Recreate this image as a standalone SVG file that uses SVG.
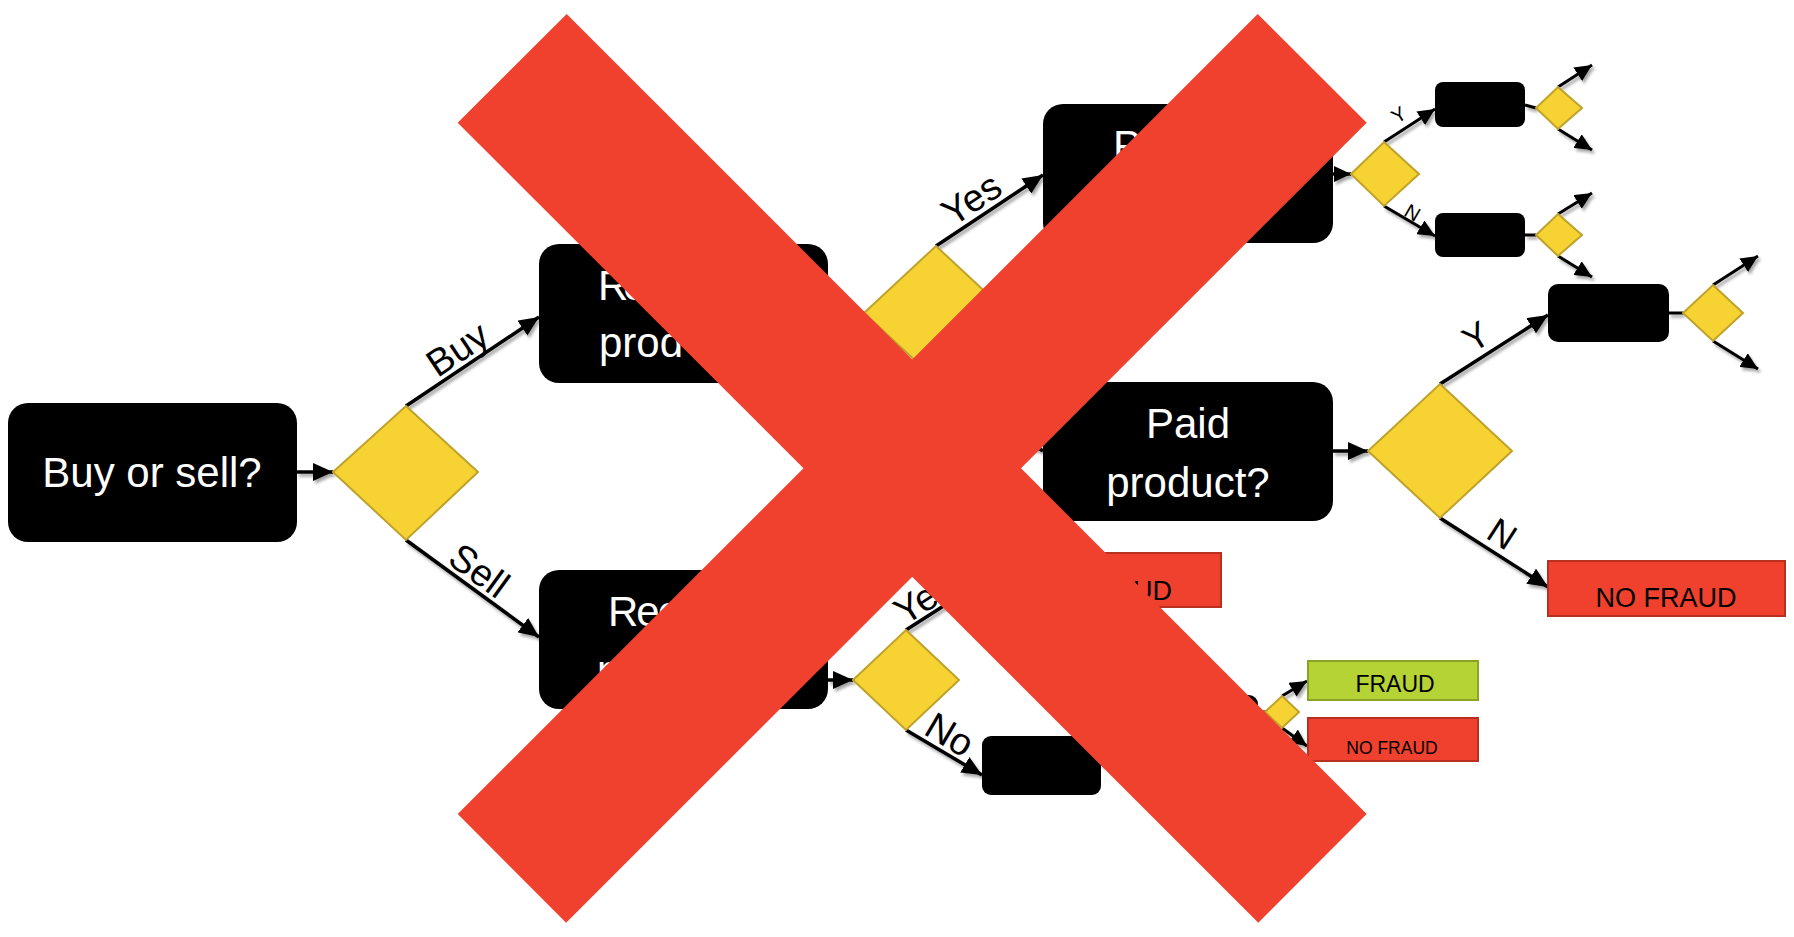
<svg xmlns="http://www.w3.org/2000/svg" width="1794" height="937" viewBox="0 0 1794 937">
<style>
.box{fill:#000}
.dia{fill:#F6D232;stroke:#BFA22A;stroke-width:2}
.red{fill:#F0402E;stroke:#B8301F;stroke-width:2}
.grn{fill:#B5D334;stroke:#8AA226;stroke-width:2}
.wt{font-family:"Liberation Sans",Arial,sans-serif;font-size:42px;fill:#fff}
.lb{font-family:"Liberation Sans",Arial,sans-serif;font-size:38px;fill:#000}
.lb.m{font-size:36px}
.lb.t{font-size:20px}
.bt{font-family:"Liberation Sans",Arial,sans-serif;fill:#000}
.cn line{stroke:#000;stroke-width:3.5;fill:none}
.cn line.s{stroke-width:3}
</style>
<defs>
<marker id="ah" markerUnits="userSpaceOnUse" markerWidth="22" markerHeight="18" refX="20" refY="9" orient="auto"><path d="M0,0 L20,9 L0,18 z" fill="#000"/></marker>
<marker id="as" markerUnits="userSpaceOnUse" markerWidth="18" markerHeight="16" refX="17" refY="8" orient="auto"><path d="M0,0 L17,8 L0,16 z" fill="#000"/></marker>
<filter id="sh" x="-10%" y="-10%" width="120%" height="120%"><feDropShadow dx="2" dy="3" stdDeviation="1.5" flood-color="#000" flood-opacity="0.35"/></filter>
</defs>
<rect width="1794" height="937" fill="#fff"/>

<g id="connectors" class="cn" filter="url(#sh)">
<line x1="297" y1="472" x2="333" y2="472" marker-end="url(#ah)"/>
<line x1="406" y1="406" x2="539" y2="317" marker-end="url(#ah)"/>
<line x1="406" y1="540" x2="539" y2="637" marker-end="url(#ah)"/>
<line x1="828" y1="313" x2="864" y2="313" marker-end="url(#ah)"/>
<line x1="936" y1="246" x2="1043" y2="175" marker-end="url(#ah)"/>
<line x1="936" y1="380" x2="1043" y2="451" marker-end="url(#ah)"/>
<line x1="1333" y1="174" x2="1351" y2="174" marker-end="url(#as)"/>
<line class="s" x1="1384" y1="142" x2="1435" y2="109" marker-end="url(#as)"/>
<line class="s" x1="1384" y1="206" x2="1435" y2="236" marker-end="url(#as)"/>
<line class="s" x1="1525" y1="105" x2="1536" y2="108"/>
<line class="s" x1="1558" y1="87" x2="1592" y2="65" marker-end="url(#as)"/>
<line class="s" x1="1558" y1="129" x2="1592" y2="150" marker-end="url(#as)"/>
<line class="s" x1="1525" y1="235" x2="1536" y2="235"/>
<line class="s" x1="1558" y1="214" x2="1592" y2="193" marker-end="url(#as)"/>
<line class="s" x1="1558" y1="256" x2="1592" y2="277" marker-end="url(#as)"/>
<line x1="1333" y1="451" x2="1368" y2="451" marker-end="url(#ah)"/>
<line x1="1440" y1="384" x2="1548" y2="315" marker-end="url(#ah)"/>
<line x1="1440" y1="518" x2="1548" y2="587" marker-end="url(#ah)"/>
<line class="s" x1="1669" y1="313" x2="1683" y2="313"/>
<line class="s" x1="1713" y1="285" x2="1758" y2="256" marker-end="url(#as)"/>
<line class="s" x1="1713" y1="341" x2="1758" y2="369" marker-end="url(#as)"/>
<line x1="828" y1="680" x2="853" y2="680" marker-end="url(#ah)"/>
<line x1="906" y1="630" x2="984" y2="580" marker-end="url(#ah)"/>
<line x1="906" y1="730" x2="982" y2="775" marker-end="url(#ah)"/>
<line x1="1101" y1="765" x2="1139" y2="724" marker-end="url(#ah)"/>
<line class="s" x1="1258" y1="712" x2="1266" y2="712"/>
<line class="s" x1="1282" y1="696" x2="1307" y2="681" marker-end="url(#as)"/>
<line class="s" x1="1282" y1="728" x2="1307" y2="746" marker-end="url(#as)"/>
</g>

<g id="labels">
<text class="lb" transform="translate(468,365) rotate(-33.8)" y="-6" text-anchor="middle">Buy</text>
<text class="lb" transform="translate(468,586) rotate(36)" y="-6" text-anchor="middle">Sell</text>
<text class="lb" transform="translate(982,215) rotate(-33.6)" y="-6" text-anchor="middle">Yes</text>
<text class="lb" transform="translate(908,631) rotate(-32.7)" y="-6" text-anchor="start">Ye</text>
<text class="lb" transform="translate(940,751) rotate(30.6)" y="-6" text-anchor="middle">No</text>
<text class="lb m" transform="translate(1487,354) rotate(-32.2)" y="-8" text-anchor="middle">Y</text>
<text class="lb m" transform="translate(1491,551) rotate(32.8)" y="-8" text-anchor="middle">N</text>
<text class="lb t" transform="translate(1408,129) rotate(-33)" y="-10" text-anchor="middle">Y</text>
<text class="lb t" transform="translate(1407,222) rotate(30)" y="-4" text-anchor="middle">N</text>
</g>

<g id="n-buysell"><rect class="box" x="8" y="403" width="289" height="139" rx="20"/><text class="wt" x="152" y="487" text-anchor="middle">Buy or sell?</text></g>
<g id="d-buysell"><polygon class="dia" points="406,406 478,472 406,540 333,472"/></g>
<g id="n-buy"><rect class="box" x="539" y="244" width="289" height="139" rx="20"/><text class="wt" x="598" y="300" letter-spacing="-5">Re</text><text class="wt" x="599" y="357">prod</text></g>
<g id="d-buy"><polygon class="dia" points="936,246 1008,313 936,380 864,313"/></g>
<g id="n-sell"><rect class="box" x="539" y="570" width="289" height="139" rx="20"/><text class="wt" x="608" y="626" letter-spacing="-2">Rec</text><text class="wt" x="597" y="685">p</text></g>
<g id="d-sell"><polygon class="dia" points="906,630 959,680 906,730 853,680"/></g>
<g id="n-p"><rect class="box" x="1043" y="104" width="290" height="139" rx="20"/><text class="wt" x="1113" y="160">P</text></g>
<g id="n-paid"><rect class="box" x="1043" y="382" width="290" height="139" rx="20"/><text class="wt" x="1188" y="438" text-anchor="middle">Paid</text><text class="wt" x="1188" y="497" text-anchor="middle">product?</text></g>
<g id="d-p"><polygon class="dia" points="1384,142 1419,174 1384,206 1351,174"/></g>
<g id="n-py"><rect class="box" x="1435" y="82" width="90" height="45" rx="8"/></g>
<g id="n-pn"><rect class="box" x="1435" y="213" width="90" height="44" rx="8"/></g>
<g id="d-py"><polygon class="dia" points="1558,87 1582,108 1558,129 1536,108"/></g>
<g id="d-pn"><polygon class="dia" points="1558,214 1582,235 1558,256 1536,235"/></g>
<g id="d-paid"><polygon class="dia" points="1440,384 1512,451 1440,518 1368,451"/></g>
<g id="n-paidy"><rect class="box" x="1548" y="284" width="121" height="58" rx="10"/></g>
<g id="d-paidy"><polygon class="dia" points="1713,285 1743,313 1713,341 1683,313"/></g>
<g id="n-nofraud1"><rect class="red" x="1548" y="561" width="237" height="55"/><text class="bt" font-size="27" x="1666" y="607" text-anchor="middle">NO FRAUD</text></g>
<g id="n-nofraud2"><rect class="red" x="984" y="553" width="237" height="54"/><text class="bt" font-size="27" x="1172" y="600" text-anchor="end">UD</text></g>
<g id="n-no"><rect class="box" x="982" y="736" width="119" height="59" rx="9"/></g>
<g id="n-hidden"><rect class="box" x="1139" y="695" width="119" height="58" rx="9"/></g>
<g id="d-small"><polygon class="dia" points="1282,696 1299,712 1282,728 1265,712"/></g>
<g id="n-fraud"><rect class="grn" x="1308" y="661" width="170" height="39"/><text class="bt" font-size="23" x="1395" y="692" text-anchor="middle">FRAUD</text></g>
<g id="n-nofraud3"><rect class="red" x="1308" y="718" width="170" height="43"/><text class="bt" font-size="17.5" x="1392" y="754" text-anchor="middle">NO FRAUD</text></g>

<g id="cross" fill="#F0412F">
<polygon points="566.7,14 1366.7,814 1258.3,922.7 457.7,122.7"/>
<polygon points="1257.7,14 1366.7,122.7 566.1,922.7 457.7,814"/>
</g>
</svg>
